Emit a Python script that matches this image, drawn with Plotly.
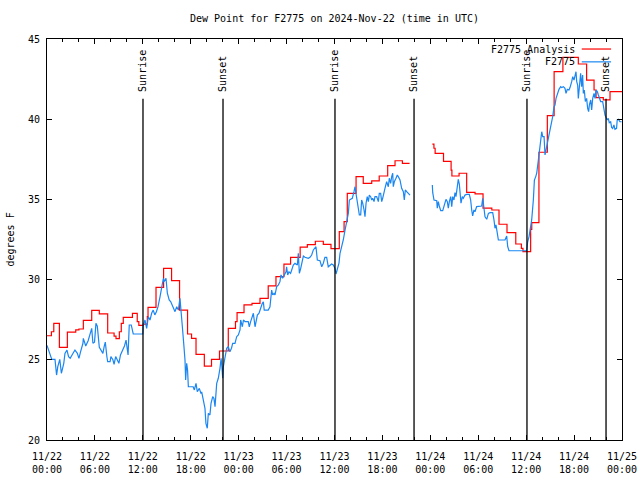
import plotly.graph_objects as go

# ---- data (hours since 2024-11-22 00:00 UTC) ----
tick_hours = [0, 6, 12, 18, 24, 30, 36, 42, 48, 54, 60, 66, 72]
tick_labels = ["11/22<br>00:00", "11/22<br>06:00", "11/22<br>12:00", "11/22<br>18:00",
               "11/23<br>00:00", "11/23<br>06:00", "11/23<br>12:00", "11/23<br>18:00",
               "11/24<br>00:00", "11/24<br>06:00", "11/24<br>12:00", "11/24<br>18:00",
               "11/25<br>00:00"]
y_ticks = [20, 25, 30, 35, 40, 45]

sun_labels = ["Sunrise", "Sunset", "Sunrise", "Sunset", "Sunrise", "Sunset"]
sun_hours = [12.02, 22.04, 36.06, 45.96, 60.1, 70.0]

# F2775 Analysis (step series)
red_hours = [0.0, 0.55, 0.85, 1.55, 2.55, 3.6, 4.0, 4.55, 5.6, 6.55,
             7.6, 8.4, 8.64, 9.06, 9.3, 9.55, 10.7, 11.3, 11.5, 12.05,
             12.56, 12.65, 13.65, 14.6, 15.6, 16.6, 17.6, 18.1, 18.66, 19.7,
             20.6, 21.6, 22.7, 23.6, 23.8, 24.67, 25.67, 26.67, 27.7, 28.67,
             29.67, 30.5, 31.7, 32.6, 33.6, 34.6, 35.56, 36.6, 37.2, 37.6,
             38.7, 39.6, 40.66, 41.6, 42.66, 43.58, 44.5, 45.4, None, 48.25,
             48.45, 48.6, 49.65, 50.6, 50.7, 51.6, 52.55, 53.6, 54.6, 55.7,
             56.6, 57.6, 58.7, 59.4, 59.6, 60.56, 60.7, 61.6, 62.65, 63.5,
             64.6, 66.53, 67.57, 68.5, 68.75, 69.66, 70.5, 72.0]
red_dewpt = [26.5, 26.75, 27.27, 25.78, 26.73, 26.86, 26.92, 27.46, 28.08, 27.86,
             26.67, 26.48, 26.32, 26.75, 27.27, 27.65, 27.9, 27.38, 27.15, 27.23,
             27.69, 28.27, 29.52, 30.7, 29.93, 28.1, 26.61, 26.34, 25.34, 24.6,
             25.03, 25.55, 26.96, 27.38, 27.94, 28.42, 28.52, 28.83, 29.61, 30.18,
             30.97, 31.39, 32.03, 32.18, 32.39, 32.2, 31.93, 32.99, 33.61, 35.38,
             36.42, 36.0, 36.15, 36.46, 37.1, 37.41, 37.25, 37.25, None, 38.44,
             38.19, 37.87, 37.37, 36.83, 36.46, 36.63, 35.44, 35.34, 34.45, 34.34,
             33.45, 32.93, 32.22, 31.95, 31.74, 33.13, 33.55, 37.94, 40.22, 42.96,
             43.86, 43.44, 42.44, 41.82, 41.34, 41.2, 41.72, 41.72]

# F2775 observations (hour, dew point)
blue_obs = [
    (0.0, 25.9), (0.3, 25.5), (0.6, 25.03), (1.0, 25.03), (1.2, 24.05), (1.35, 24.57),
    (1.6, 25.03), (1.8, 24.16), (2.0, 24.6), (2.1, 24.78), (2.25, 25.4), (2.5, 25.61),
    (2.7, 25.19), (2.9, 25.1), (3.3, 25.44), (3.5, 25.61), (3.8, 25.4), (4.0, 25.09),
    (4.2, 25.5), (4.5, 26.03), (4.55, 26.34), (4.85, 25.86), (5.15, 26.19), (5.4, 26.55),
    (5.6, 26.96), (5.75, 26.03), (5.95, 26.1), (6.13, 27.27), (6.3, 27.1), (6.55, 25.78),
    (6.8, 25.57), (7.0, 25.4), (7.15, 25.8), (7.3, 26.1), (7.5, 25.19), (7.6, 24.88),
    (7.9, 24.88), (8.0, 25.2), (8.25, 25.0), (8.4, 24.72), (8.6, 25.2), (8.8, 25.0),
    (9.0, 24.78), (9.2, 25.3), (9.5, 25.65), (9.7, 25.86), (9.9, 26.23), (10.05, 25.6),
    (10.15, 25.3), (10.3, 27.17), (10.55, 27.17), (10.8, 26.61), (12.0, 26.61),
    (12.05, 27.15), (12.27, 27.48), (12.48, 26.96), (12.69, 27.69), (12.9, 27.48),
    (13.1, 27.9), (13.3, 28.1), (13.5, 27.8), (13.7, 28.0), (13.9, 28.31), (14.15, 28.93),
    (14.36, 29.56), (14.57, 30.08), (14.65, 29.87), (14.9, 30.08), (15.07, 29.15),
    (15.2, 28.93), (15.3, 28.73), (15.5, 28.62), (15.7, 28.42), (15.9, 28.21),
    (16.03, 28.0), (16.24, 28.31), (16.45, 28.1), (16.65, 28.83), (16.74, 28.1),
    (16.95, 27.06), (17.15, 25.82), (17.28, 24.99), (17.36, 23.74), (17.49, 24.78),
    (17.6, 24.36), (17.7, 23.32), (18.3, 23.32), (18.45, 23.12), (18.66, 23.53),
    (18.82, 23.01), (19.07, 23.22), (19.28, 22.9), (19.37, 23.0), (19.58, 22.39),
    (19.78, 21.97), (19.9, 21.04), (20.07, 20.73), (20.2, 21.66), (20.4, 21.56),
    (20.54, 22.29), (20.75, 22.7), (20.9, 22.6), (21.04, 22.08), (21.25, 23.53),
    (21.45, 23.85), (21.66, 24.47), (21.8, 25.09), (21.9, 24.57), (22.0, 23.85),
    (22.08, 24.57), (22.29, 25.19), (22.5, 25.72), (22.7, 25.82), (22.9, 25.5),
    (23.1, 25.72), (23.25, 26.03), (23.54, 26.03), (23.75, 26.44), (23.96, 26.55),
    (24.17, 26.86), (24.25, 27.48), (24.46, 27.06), (24.6, 27.48), (24.8, 27.38),
    (25.2, 27.38), (25.33, 27.06), (25.5, 27.38), (25.76, 27.69), (25.84, 27.9),
    (26.05, 27.06), (26.17, 27.48), (26.34, 27.79), (26.55, 27.9), (26.76, 28.31),
    (26.96, 28.52), (27.09, 28.62), (27.2, 28.1), (27.7, 28.1), (27.92, 28.31),
    (28.13, 29.35), (28.26, 29.04), (28.43, 29.15), (28.55, 29.04), (28.76, 29.56),
    (28.96, 29.66), (29.17, 29.87), (29.3, 30.29), (29.5, 30.08), (29.7, 30.29),
    (29.93, 30.49), (30.0, 30.8), (30.14, 30.29), (30.3, 30.49), (30.5, 30.39),
    (30.64, 30.6), (30.84, 30.91), (31.05, 31.02), (31.35, 30.91), (31.47, 31.64),
    (31.6, 30.39), (31.77, 30.7), (31.97, 31.12), (32.1, 31.47), (32.3, 31.39),
    (32.72, 31.33), (32.93, 31.39), (33.14, 31.53), (33.35, 31.85), (33.56, 31.95),
    (33.68, 32.05), (33.85, 31.22), (34.18, 31.18), (34.4, 30.8), (34.6, 31.02),
    (34.8, 31.39), (35.02, 31.39), (35.22, 30.8), (35.43, 30.91), (35.64, 30.97),
    (35.85, 30.91), (36.06, 30.7), (36.19, 30.35), (36.35, 30.7), (36.56, 31.02),
    (36.69, 31.64), (36.81, 31.85), (36.9, 32.05), (37.1, 32.47), (37.32, 33.09),
    (37.53, 33.61), (37.73, 34.13), (37.86, 34.96), (38.03, 35.0), (38.23, 35.07),
    (38.44, 35.48), (38.57, 35.79), (38.69, 35.38), (38.86, 34.96), (38.98, 34.45),
    (39.11, 34.03), (39.28, 34.03), (39.4, 34.96), (39.53, 34.76), (39.7, 34.34),
    (39.82, 33.92), (39.95, 34.76), (40.1, 35.17), (40.24, 34.86), (40.36, 35.27),
    (40.53, 35.17), (40.66, 34.96), (40.78, 35.07), (40.95, 34.86), (41.07, 35.17),
    (41.28, 35.17), (41.49, 34.86), (41.61, 35.38), (41.78, 35.38), (41.91, 34.86),
    (42.03, 35.07), (42.2, 35.59), (42.32, 35.69), (42.53, 36.1), (42.74, 35.79),
    (42.86, 36.32), (43.03, 36.0), (43.16, 36.42), (43.29, 36.63), (43.36, 35.79),
    (43.49, 36.1), (43.7, 36.32), (43.86, 36.52), (43.99, 36.42), (44.2, 36.21),
    (44.41, 35.69), (44.62, 35.48), (44.74, 34.96), (44.87, 35.59), (45.04, 35.48),
    (45.24, 35.38), (45.45, 35.27), (None, None),
    (48.25, 35.9), (48.3, 35.42), (48.46, 34.96), (48.8, 34.92), (48.87, 34.45),
    (49.0, 34.86), (49.12, 34.59), (49.3, 34.3), (49.55, 34.3), (49.71, 34.59),
    (49.84, 34.86), (49.96, 35.0), (50.13, 34.86), (50.25, 34.45), (50.38, 34.86),
    (50.55, 35.17), (50.68, 34.55), (50.8, 35.17), (50.96, 34.96), (51.09, 35.42),
    (51.21, 35.17), (51.38, 35.79), (51.5, 36.25), (51.63, 35.96), (51.71, 35.38),
    (51.84, 34.76), (52.0, 35.17), (52.13, 35.07), (52.34, 35.27), (52.55, 35.31),
    (52.88, 35.31), (53.05, 34.96), (53.18, 34.34), (53.3, 33.97), (53.46, 34.34),
    (53.59, 34.23), (53.8, 34.55), (54.22, 34.59), (54.43, 34.59), (54.56, 35.07),
    (54.64, 34.65), (54.85, 33.92), (55.06, 33.76), (55.27, 34.13), (55.48, 34.17),
    (55.81, 34.17), (55.97, 33.72), (56.1, 33.2), (56.22, 33.41), (56.39, 32.99),
    (56.52, 32.47), (57.35, 32.47), (57.56, 32.72), (57.69, 32.05), (57.85, 31.8),
    (60.07, 31.8), (60.19, 32.36), (60.36, 32.68), (60.48, 33.09), (60.69, 33.72),
    (60.9, 34.96), (61.03, 36.2), (61.2, 36.42), (61.32, 36.63), (61.53, 37.46),
    (61.66, 38.08), (61.82, 38.91), (61.95, 39.22), (62.07, 38.91), (62.24, 38.91),
    (62.36, 37.77), (62.49, 38.08), (62.65, 38.5), (62.78, 38.91), (62.9, 39.22),
    (63.07, 39.43), (63.2, 39.74), (63.32, 40.16), (63.49, 40.78), (63.61, 40.88),
    (63.74, 41.3), (63.9, 41.61), (64.11, 41.86), (64.32, 42.03), (64.45, 41.97),
    (64.66, 42.03), (64.86, 41.92), (64.99, 41.61), (65.15, 41.86), (65.36, 41.82),
    (65.49, 41.97), (65.7, 42.34), (65.83, 42.65), (65.99, 42.44), (66.12, 42.65),
    (66.24, 42.96), (66.33, 42.34), (66.45, 42.13), (66.53, 41.3), (66.66, 42.03),
    (66.82, 42.86), (66.95, 42.03), (67.07, 42.76), (67.16, 41.61), (67.28, 41.82),
    (67.41, 41.1), (67.57, 41.3), (67.7, 40.68), (67.82, 40.47), (67.91, 40.88),
    (68.08, 41.2), (68.2, 40.57), (68.33, 41.3), (68.5, 41.61), (68.62, 41.3),
    (68.75, 41.82), (68.91, 41.72), (69.04, 41.51), (69.16, 41.3), (69.33, 41.1),
    (69.58, 41.1), (69.74, 40.57), (69.87, 40.26), (69.99, 40.12), (70.16, 39.95),
    (70.28, 40.05), (70.41, 39.78), (70.58, 39.84), (70.7, 39.49), (70.83, 39.43),
    (70.99, 39.64), (71.12, 39.37), (71.32, 39.43), (71.4, 39.95), (71.57, 39.99),
    (71.74, 39.84), (71.95, 39.84),
]
blue_hours = [p[0] for p in blue_obs]
blue_dewpt = [p[1] for p in blue_obs]

# ---- styling ----
FONT = "DejaVu Sans Mono"
RED = "#FF0000"
BLUE = "#1A86F2"

fig = go.Figure()
fig.add_trace(go.Scatter(x=red_hours, y=red_dewpt, mode="lines", connectgaps=False,
                         line=dict(color=RED, width=1.2, shape="hv"), showlegend=False))
fig.add_trace(go.Scatter(x=blue_hours, y=blue_dewpt, mode="lines", connectgaps=False,
                         line=dict(color=BLUE, width=1.2), showlegend=False))

shapes = []
annotations = []
for lab, t in zip(sun_labels, sun_hours):
    shapes.append(dict(type="line", xref="x", yref="paper", x0=t, x1=t, y0=0, y1=0.851,
                       line=dict(color="black", width=1.3), layer="above"))
    annotations.append(dict(text=lab, x=t, xref="x", y=0.863, yref="paper",
                            xanchor="center", yanchor="bottom", textangle=-90,
                            showarrow=False, font=dict(family=FONT, size=10, color="black")))

# legend (gnuplot style: text right-aligned, sample to the right)
legend_names = ["F2775 Analysis", "F2775"]
legend_colors = [RED, BLUE]
legend_y = [0.975, 0.943]
for name, col, ly in zip(legend_names, legend_colors, legend_y):
    annotations.append(dict(text=name, x=0.922, xref="paper", y=ly, yref="paper",
                            xanchor="right", yanchor="middle", showarrow=False,
                            font=dict(family=FONT, size=10, color="black")))
    shapes.append(dict(type="line", xref="paper", yref="paper", x0=0.930, x1=0.981,
                       y0=ly, y1=ly, line=dict(color=col, width=1.2)))

annotations.append(dict(text="Dew Point for F2775 on 2024-Nov-22 (time in UTC)",
                        x=0.5, xref="paper", y=1.05, yref="paper", xanchor="center",
                        yanchor="middle", showarrow=False,
                        font=dict(family=FONT, size=10, color="black")))
annotations.append(dict(text="degrees F", x=-0.0643, xref="paper", y=0.5, yref="paper",
                        xanchor="center", yanchor="middle", textangle=-90, showarrow=False,
                        font=dict(family=FONT, size=10, color="black")))

fig.update_layout(
    width=640, height=480, autosize=False,
    margin=dict(l=47, r=18, t=39, b=40, pad=0),
    paper_bgcolor="white", plot_bgcolor="white",
    font=dict(family=FONT, size=10, color="black"),
    shapes=shapes, annotations=annotations, showlegend=False,
    xaxis=dict(range=[0, 72], tickmode="array", tickvals=tick_hours, ticktext=tick_labels,
               ticks="inside", ticklen=5, tickwidth=1, tickcolor="black",
               showline=True, linecolor="black", linewidth=1, mirror="ticks",
               showgrid=False, zeroline=False, automargin=False, ticklabelstandoff=7,
               minor=dict(dtick=2, tick0=0, ticks="inside", ticklen=3, tickcolor="black",
                          showgrid=False),
               tickfont=dict(family=FONT, size=10, color="black")),
    yaxis=dict(range=[20, 45], tickmode="array", tickvals=y_ticks,
               ticktext=[str(v) for v in y_ticks],
               ticks="inside", ticklen=5, tickwidth=1, tickcolor="black",
               showline=True, linecolor="black", linewidth=1, mirror="ticks",
               showgrid=False, zeroline=False, automargin=False, ticklabelstandoff=4,
               tickfont=dict(family=FONT, size=10, color="black")),
)

# remove the browser's default 8px body margin so the figure fills the 640x480 window
fig.write_html("out.html", config={"displayModeBar": False},
               post_script="document.body.style.margin='0';")
